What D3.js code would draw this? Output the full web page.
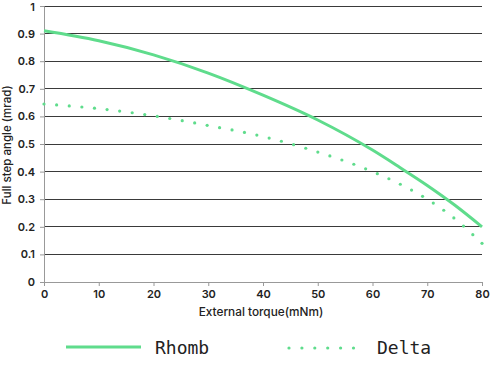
<!DOCTYPE html>
<html><head><meta charset="utf-8">
<script src="https://cdn.jsdelivr.net/npm/d3@7/dist/d3.min.js"></script>
<style>body{margin:0;background:#fff}svg{display:block}</style>
</head><body>
<svg id="c" width="494" height="367"></svg>
<script>
const torque = [0,10,20,30,40,50,60,65,70,75,80];
const rhomb  = [0.91,0.874,0.823,0.757,0.677,0.587,0.478,0.415,0.350,0.279,0.20];
const delta  = [0.645,0.628,0.602,0.567,0.527,0.471,0.40,0.355,0.30,0.23,0.14];
const xTicks = [0,10,20,30,40,50,60,70,80];
const yTicks = [0,0.1,0.2,0.3,0.4,0.5,0.6,0.7,0.8,0.9,1];
const seriesNames = ["Rhomb","Delta"];
const green = "#5fdc8c";

const svg = d3.select("#c");
const x = d3.scaleLinear().domain([0,80]).range([44,482]);
const y = d3.scaleLinear().domain([0,1]).range([282,6]);
const font = "Inter, 'Liberation Sans', sans-serif";

// grid
svg.append("g").selectAll("line").data(yTicks.filter(d=>d>0)).join("line")
  .attr("x1",x(0)).attr("x2",x(80)).attr("y1",d=>y(d)).attr("y2",d=>y(d))
  .attr("stroke","#3a3a3a").attr("stroke-width",1).attr("shape-rendering","crispEdges");

const yAxis = svg.append("g").attr("transform",`translate(${x(0)},0)`)
  .call(d3.axisLeft(y).tickValues(yTicks).tickFormat(d=>d===0?"0":(d===1?"1":d3.format(".1f")(d))).tickSize(4).tickPadding(5));
const xAxis = svg.append("g").attr("transform",`translate(0,${y(0)})`)
  .call(d3.axisBottom(x).tickValues(xTicks).tickSize(4).tickPadding(4));
[yAxis,xAxis].forEach(g=>{
  g.select(".domain").attr("stroke","#999");
  g.selectAll(".tick line").attr("stroke","#999");
  g.selectAll("text").attr("font-family",font).attr("font-size",11).attr("font-weight",600).attr("fill","#222");
});
yAxis.selectAll(".tick text").filter(d=>d===1).attr("dy","0.45em");

svg.append("text").attr("x",261).attr("y",316).attr("text-anchor","middle")
  .attr("font-family",font).attr("font-size",11.8).attr("font-weight",500).attr("fill","#222")
  .text("External torque(mNm)");
svg.append("text").attr("transform","translate(11,145) rotate(-90)").attr("text-anchor","middle")
  .attr("font-family",font).attr("font-size",11.5).attr("font-weight",500).attr("fill","#222")
  .text("Full step angle (mrad)");

const line = d3.line().x((d,i)=>x(torque[i])).y(d=>y(d)).curve(d3.curveMonotoneX);
svg.append("path").attr("d",line(rhomb)).attr("fill","none").attr("stroke",green).attr("stroke-width",3);

// dotted Delta: dots evenly along the curve
const dp = svg.append("path").attr("d",line(delta)).attr("fill","none").attr("stroke","none");
const node = dp.node();
const L = node.getTotalLength();
const n = Math.round(L/12.7);
const pts = d3.range(n+1).map(k=>node.getPointAtLength(k*L/n));
svg.append("g").selectAll("circle").data(pts).join("circle")
  .attr("cx",p=>p.x).attr("cy",p=>p.y).attr("r",1.6).attr("fill",green);

// legend
svg.append("line").attr("x1",66).attr("x2",141).attr("y1",347).attr("y2",347).attr("stroke",green).attr("stroke-width",3);
svg.append("g").selectAll("circle").data(d3.range(6)).join("circle")
  .attr("cx",i=>289+i*12.9).attr("cy",348).attr("r",1.6).attr("fill",green);
const lf = "'DejaVu Sans Mono', monospace";
svg.append("text").attr("x",155).attr("y",354).attr("font-family",lf).attr("font-size",18).attr("fill","#222").text(seriesNames[0]);
svg.append("text").attr("x",377).attr("y",354).attr("font-family",lf).attr("font-size",18).attr("fill","#222").text(seriesNames[1]);
</script>
</body></html>
